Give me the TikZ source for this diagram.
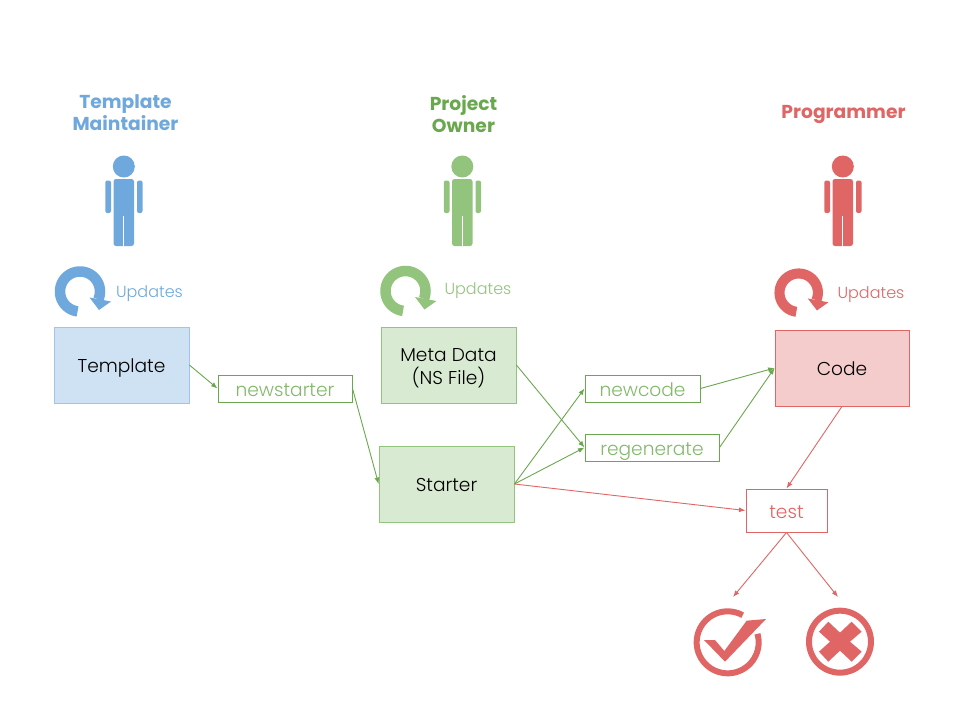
\documentclass[tikz,border=0pt]{standalone}
\usepackage{fontspec}
\setmainfont{Poppins}
\newfontfamily\lightfont{Poppins Light}
\usetikzlibrary{arrows.meta}
\definecolor{bluem}{HTML}{6FA8DC}
\definecolor{bluef}{HTML}{CFE2F3}
\definecolor{blued}{HTML}{9FC5E8}
\definecolor{greenm}{HTML}{6AA84F}
\definecolor{greenl}{HTML}{93C47D}
\definecolor{greenf}{HTML}{D9EAD3}
\definecolor{redm}{HTML}{E06666}
\definecolor{redf}{HTML}{F4CCCC}
\newcommand{\personicon}[2]{%
  \begin{scope}[shift={(#1,0)},fill=#2]
    \fill (123.8,166.5) circle[radius=11];
    \fill[rounded corners=2.5] (113.5,179) rectangle (134,246);
    \fill[white] (123.2,216) rectangle (124.4,247);
    \fill[rounded corners=2] (105.3,180.5) rectangle (111,213);
    \fill[rounded corners=2] (137,180.5) rectangle (142.5,213);
  \end{scope}}
% centre x, centre y, scale, colour
\newcommand{\updateicon}[4]{%
  \begin{scope}[shift={(#1,#2)},scale=#3]
    \draw[#4,line width=#3*10.5pt,line cap=butt] plot[domain=97:383,samples=50] ({20*cos(\x)},{20*sin(\x)});
    \fill[#4] (9.5,6) -- (31,10) -- (19,18.5) -- cycle;
  \end{scope}}
\tikzset{
  x=1pt,y=-1pt,
  boxtext/.style={font=\lightfont\fontsize{18.6}{22}\selectfont,text=black,align=center,inner sep=0pt,line width=.8pt},
  opbox/.style={font=\lightfont\fontsize{18.6}{22}\selectfont,align=center,inner sep=0pt,line width=1pt,fill=white},
  title/.style={font=\bfseries\fontsize{18.7}{22}\selectfont,align=center,inner sep=0pt},
  upd/.style={font=\lightfont\fontsize{16}{19}\selectfont,inner sep=0pt},
  conn/.style={line width=.9pt,-{Latex[length=6.5pt,width=5pt]}},
}
\newcommand{\dn}[1]{\raisebox{-7.5pt}[10pt][10pt]{#1}}
\begin{document}
\begin{tikzpicture}
\useasboundingbox (0,0) rectangle (960,720);
\fill[white] (0,0) rectangle (960,720);
\node[title,text=bluem] (t1) at (125.5,112.5) {Template\\Maintainer};
\node[title,text=greenm] (t2) at (463.5,114.5) {Project\\Owner};
\node[title,text=redm] (t3) at (843.5,115) {Programmer};
\personicon{0}{bluem}
\personicon{338.5}{greenl}
\personicon{719}{redm}
\updateicon{80}{291.5}{1}{bluem}
\updateicon{405.5}{291}{1}{greenl}
\updateicon{798.7}{292.7}{.96}{redm}
\node[upd,text=bluem] (u1) at (149.5,294) {Updates};
\node[upd,text=greenl] (u2) at (478,291) {Updates};
\node[upd,text=redm] (u3) at (871,295) {Updates};
\node[boxtext,draw=blued,fill=bluef,minimum width=135pt,minimum height=76pt] (tpl) at (121.5,365) {\dn{Template}};
\node[boxtext,draw=greenl,fill=greenf,minimum width=135pt,minimum height=76pt] (meta) at (448.5,365) {\raisebox{4pt}[10pt][10pt]{\begin{tabular}[t]{@{}c@{}}Meta Data\\(NS File)\end{tabular}}};
\node[boxtext,draw=greenl,fill=greenf,minimum width=135pt,minimum height=76pt] (starter) at (446.5,484) {\dn{Starter}};
\node[boxtext,draw=redm,fill=redf,minimum width=134pt,minimum height=76pt] (code) at (842,368) {\dn{Code}};
\node[opbox,draw=greenm,text=greenl!60!greenm,minimum width=134pt,minimum height=27pt] (ns) at (285,388.5) {\dn{newstarter}};
\node[opbox,draw=greenm,text=greenl!60!greenm,minimum width=115pt,minimum height=27pt] (nc) at (642.5,388.5) {\dn{newcode}};
\node[opbox,draw=greenm,text=greenl!60!greenm,minimum width=134pt,minimum height=27pt] (rg) at (652,447.5) {\dn{regenerate}};
\node[opbox,draw=redm,text=redm,minimum width=81pt,minimum height=43pt] (test) at (786.5,510.5) {\dn{test}};
\coordinate (okend) at (733,597);
\coordinate (failend) at (838,597);
\draw[conn,greenm] (tpl.east) -- (ns.west);
\draw[conn,greenm] (ns.east) -- (starter.west);
\draw[conn,greenm] (meta.east) -- (rg.west);
\draw[conn,greenm] (starter.east) -- (nc.west);
\draw[conn,greenm] (starter.east) -- (rg.west);
\draw[conn,greenm] (nc.east) -- (code.west);
\draw[conn,greenm] (rg.east) -- (code.west);
\draw[conn,redm] (starter.east) -- (test.west);
\draw[conn,redm] (code.south) -- (test.north);
\draw[conn,redm] (test.south) -- (okend);
\draw[conn,redm] (test.south) -- (failend);
\begin{scope}[shift={(680,590)},x=.3333pt,y=-.3333pt]
  \draw[redm,line width=6pt] plot[domain=61:376,samples=60] ({143+93*cos(\x)},{157-93*sin(\x)});
  \fill[redm] (72,150) -- (105,150) -- (133,183) -- (200,92) -- (258,87) -- (135,215) -- cycle;
  \draw[redm,line width=6pt] (480,155) circle[radius=93];
  \fill[redm] (445,95) -- (480,128) -- (515,95) -- (545,125) -- (510,155) -- (545,185) -- (515,215) -- (480,182) -- (445,215) -- (417,185) -- (450,155) -- (417,125) -- cycle;
\end{scope}
\end{tikzpicture}
\end{document}
